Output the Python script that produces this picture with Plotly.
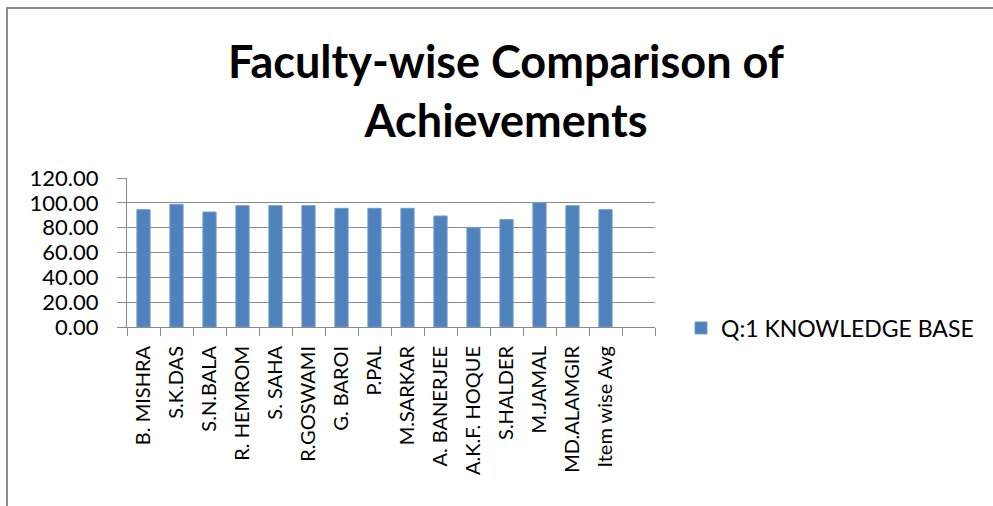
import plotly.graph_objects as go

categories = ["B. MISHRA", "S.K.DAS", "S.N.BALA", "R. HEMROM", "S. SAHA", "R.GOSWAMI",
              "G. BAROI", "P.PAL", "M.SARKAR", "A. BANERJEE", "A.K.F. HOQUE", "S.HALDER",
              "M.JAMAL", "MD.ALAMGIR", "Item wise Avg"]
values = [94.5, 98.8, 92.6, 97.7, 97.7, 97.7, 95.6, 95.6, 95.6, 89.4, 79.7, 86.5, 100.0, 97.7, 94.5]
series_name = "Q:1 KNOWLEDGE BASE"
y_ticks = [0, 20, 40, 60, 80, 100, 120]
title_text = "<b>Faculty-wise Comparison of<br>Achievements</b>"

# Chart keeps one blank slot at the end of the category axis
x_cats = categories + [" "]
y_vals = values + [None]

FONT = "Lato"
GRID = "#8a8a8a"
W, H = 993, 506
L, R, T, B = 127, 338, 178, 179
PW, PH = W - L - R, H - T - B

def px_x(x):
    return (x - L) / PW

def px_y(y):
    return (H - B - y) / PH

fig = go.Figure()
fig.add_trace(go.Bar(x=x_cats, y=y_vals, name=series_name,
                     marker=dict(color="#4f81bd", line=dict(color="#6f9bd0", width=1)),
                     showlegend=True))

fig.update_layout(
    width=W, height=H,
    paper_bgcolor="white", plot_bgcolor="white",
    margin=dict(l=L, r=R, t=T, b=B),
    bargap=0.6,
    font=dict(family=FONT, size=19, color="black"),
    showlegend=True,
    legend=dict(x=px_x(681), y=px_y(328), xanchor="left", yanchor="middle",
                font=dict(family=FONT, size=23, color="black"),
                itemwidth=30, bgcolor="rgba(0,0,0,0)"),
    xaxis=dict(type="category", categoryorder="array", categoryarray=x_cats,
               tickangle=-90, showline=True, linecolor=GRID, linewidth=1,
               ticks="outside", ticklen=8, tickcolor=GRID, tickson="boundaries",
               ticklabelstandoff=10,
               showgrid=False, tickfont=dict(family=FONT, size=20, color="black")),
    yaxis=dict(range=[0, 120], tickvals=y_ticks, tickformat=".2f",
               showline=True, linecolor=GRID, linewidth=1,
               ticks="outside", ticklen=9, tickcolor=GRID,
               showgrid=True, gridcolor=GRID, gridwidth=1, zeroline=False,
               ticklabelstandoff=14,
               tickfont=dict(family=FONT, size=22, color="black")),
    annotations=[dict(text=title_text, xref="paper", yref="paper",
                      x=px_x(506), y=px_y(90), xanchor="center", yanchor="middle",
                      showarrow=False, align="center",
                      font=dict(family=FONT, size=45, color="black"))],
    shapes=[
        dict(type="line", xref="paper", yref="paper", x0=px_x(6), x1=px_x(W), y0=px_y(8), y1=px_y(8),
             line=dict(color="#8c8c8c", width=2)),
        dict(type="line", xref="paper", yref="paper", x0=px_x(7), x1=px_x(7), y0=px_y(7), y1=px_y(H),
             line=dict(color="#8c8c8c", width=2)),
    ],
)

fig.write_html("out.html", config={"displayModeBar": False},
               post_script="document.body.style.margin='0';")
